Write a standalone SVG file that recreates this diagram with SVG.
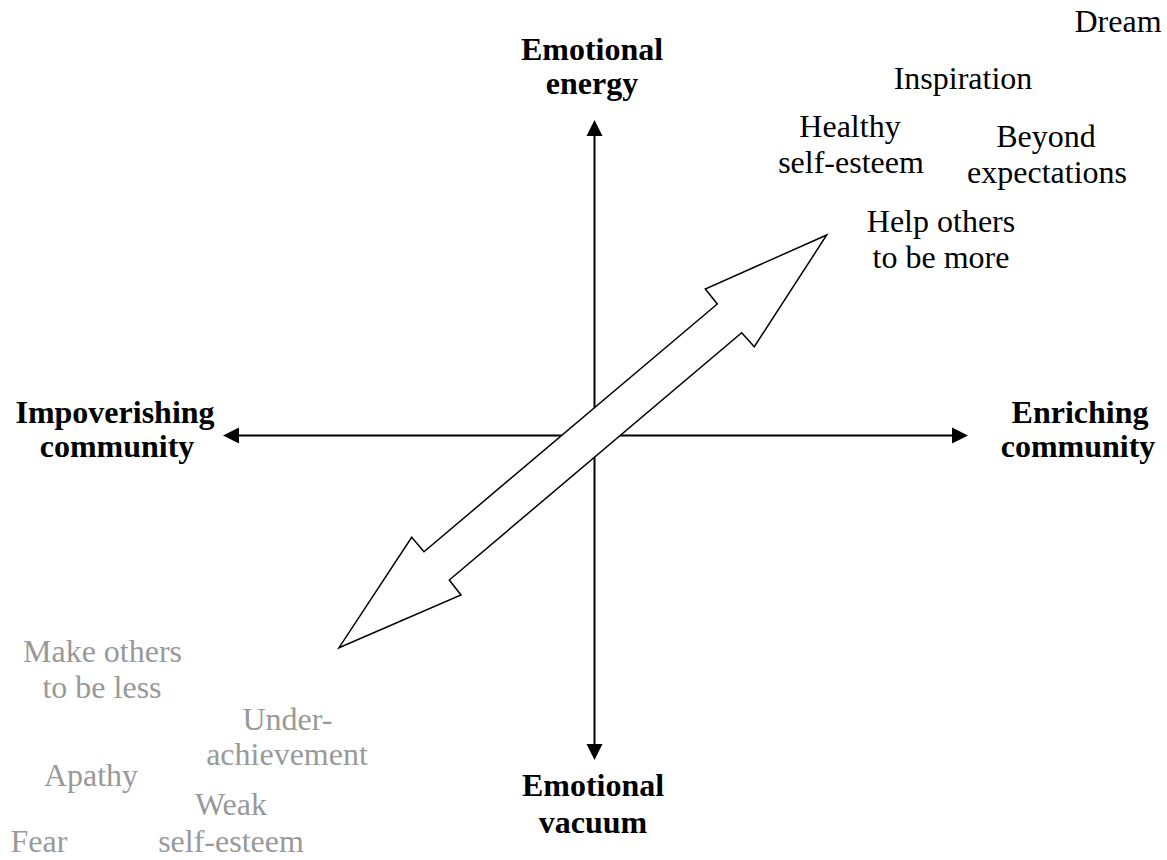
<svg xmlns="http://www.w3.org/2000/svg" width="1167" height="860" viewBox="0 0 1167 860">
<defs>
<style>
.t{font-family:'Liberation Serif','DejaVu Serif',serif;font-size:32px;text-anchor:middle;fill:#000}
.b{font-weight:bold}
.g{fill:#999999}
.ax{stroke:#000;stroke-width:2;fill:none}
.ah{fill:#000;stroke:none}
</style>
</defs>
<rect width="1167" height="860" fill="#fff"/>
<g id="connectors">
<line class="ax" x1="594.5" y1="134" x2="594.5" y2="746"/>
<line class="ax" x1="237" y1="435.5" x2="955" y2="435.5"/>
<polygon class="ah" points="594.5,120 586.5,136 602.5,136"/>
<polygon class="ah" points="594.5,760 586.5,744 602.5,744"/>
<polygon class="ah" points="223,435.5 239,427.5 239,443.5"/>
<polygon class="ah" points="968,435.5 952,427.5 952,443.5"/>
</g>
<g id="double-arrow">
<polygon points="826.7,235 705.3,289 717.3,304 424,551.7 411.7,537.3 339,647.7 461,595 449.3,580 741.7,332.7 754.3,346.7" fill="#fff" stroke="#000" stroke-width="1.5" stroke-linejoin="miter"/>
</g>
<g font-family="Liberation Serif, DejaVu Serif, serif">
<g id="emotional-energy"><text class="t b" x="592" y="60">Emotional</text><text class="t b" x="592" y="94">energy</text></g>
<g id="emotional-vacuum"><text class="t b" x="593" y="796">Emotional</text><text class="t b" x="593" y="833">vacuum</text></g>
<g id="impoverishing"><text class="t b" x="115" y="423">Impoverishing</text><text class="t b" x="117" y="457">community</text></g>
<g id="enriching"><text class="t b" x="1080" y="423">Enriching</text><text class="t b" x="1078" y="457">community</text></g>
<g id="dream"><text class="t" x="1118" y="32">Dream</text></g>
<g id="inspiration"><text class="t" x="963" y="89">Inspiration</text></g>
<g id="healthy"><text class="t" x="850" y="137">Healthy</text><text class="t" x="851" y="173">self-esteem</text></g>
<g id="beyond"><text class="t" x="1046" y="147">Beyond</text><text class="t" x="1047" y="183">expectations</text></g>
<g id="help"><text class="t" x="941" y="232">Help others</text><text class="t" x="941" y="268">to be more</text></g>
<g id="make"><text class="t g" x="102.5" y="662">Make others</text><text class="t g" x="102" y="698">to be less</text></g>
<g id="under"><text class="t g" x="287.5" y="730">Under-</text><text class="t g" x="287" y="765">achievement</text></g>
<g id="apathy"><text class="t g" x="91" y="786">Apathy</text></g>
<g id="weak"><text class="t g" x="231" y="815">Weak</text><text class="t g" x="231" y="852">self-esteem</text></g>
<g id="fear"><text class="t g" x="39" y="852">Fear</text></g>
</g>
</svg>
